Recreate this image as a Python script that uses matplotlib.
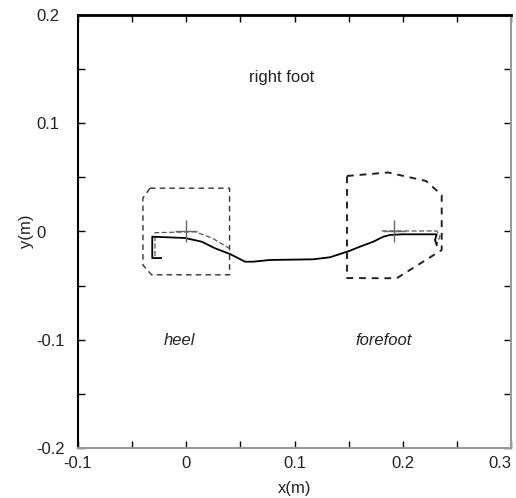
import matplotlib
matplotlib.use("Agg")
import matplotlib.pyplot as plt
import numpy as np

plt.rcParams["font.family"] = ["Liberation Sans", "DejaVu Sans"]

# foot regions (m)
heel_box_x = [-0.0335, 0.040, 0.040, -0.032, -0.040, -0.040, -0.0335]
heel_box_y = [0.040, 0.040, -0.040, -0.040, -0.031, 0.031, 0.040]
fore_box_x = [0.1485, 0.1864, 0.2215, 0.236, 0.236, 0.1944, 0.1485, 0.1485]
fore_box_y = [0.0513, 0.0545, 0.0467, 0.0337, -0.0171, -0.0432, -0.043, 0.0513]

# centre of pressure path
cop_x = [-0.0233, -0.0314, -0.0314, -0.0012, 0.0143, 0.0266, 0.0404, 0.0543,
         0.0617, 0.0774, 0.1171, 0.1328, 0.1420, 0.1513, 0.1605, 0.1728,
         0.1820, 0.1882, 0.1990, 0.2314, 0.2298, 0.2314]
cop_y = [-0.0245, -0.0245, -0.0048, -0.0060, -0.0094, -0.0155, -0.0208, -0.0279,
         -0.0279, -0.0263, -0.0257, -0.0238, -0.0208, -0.0177, -0.0140, -0.0094,
         -0.0048, -0.0032, -0.0026, -0.0026, -0.0078, -0.0125]

# second (dashed) path segments
heel_path_x = [-0.0289, -0.0289, 0.0081, 0.0238, 0.0423]
heel_path_y = [-0.0226, -0.0011, -0.0002, -0.0060, -0.0171]
fore_path_x = [0.1805, 0.2314, 0.2344, 0.2316]
fore_path_y = [0.0005, 0.0005, -0.0042, -0.0116]

# region centres
centre_x = [0.0, 0.192]
centre_y = [0.0, 0.0]

ticks = [-0.1, 0, 0.1, 0.2, 0.3]
yticks = [-0.2, -0.1, 0, 0.1, 0.2]

fig = plt.figure(figsize=(5.16, 4.98), dpi=100)
ax = fig.add_axes([78/516, 50/498, 433/516, 433/498])

ax.plot(heel_box_x, heel_box_y, color="#333333", lw=1.0, dashes=(4, 3))
ax.plot(fore_box_x, fore_box_y, color="#222222", lw=1.4, dashes=(3.5, 3))
ax.plot(heel_path_x, heel_path_y, color="#555555", lw=0.9, dashes=(4, 2))
ax.plot(fore_path_x, fore_path_y, color="#555555", lw=0.9, dashes=(4, 2))
ax.plot(cop_x, cop_y, color="black", lw=1.3)
ax.plot(centre_x, centre_y, "+", color="#666666", markersize=16, mew=1.0)

ax.text(0.088, 0.1427, "right foot", fontsize=12, ha="center", va="center", color="#222222")
ax.text(-0.0062, -0.1009, "heel", fontsize=12, ha="center", va="center", style="italic", color="#222222")
ax.text(0.182, -0.1009, "forefoot", fontsize=12, ha="center", va="center", style="italic", color="#222222")

ax.set_xlim(-0.1, 0.3)
ax.set_ylim(-0.2, 0.2)
ax.set_xticks(ticks)
ax.set_xticklabels(["-0.1", "0", "0.1", "0.2", "0.3"])
ax.set_yticks(yticks)
ax.set_yticklabels(["-0.2", "-0.1", "0", "0.1", "0.2"])
ax.set_xticks(np.arange(-0.1, 0.31, 0.05), minor=True)
ax.set_yticks(np.arange(-0.2, 0.21, 0.05), minor=True)
ax.tick_params(which="both", direction="in", length=5, width=1.0, top=True, right=True,
               labelsize=12, labelcolor="#222222")
ax.tick_params(axis="x", pad=6)
ax.tick_params(axis="y", pad=30)
for lab in ax.get_yticklabels():
    lab.set_horizontalalignment("left")
ax.get_xticklabels()[-1].set_horizontalalignment("right")

ax.spines["top"].set_linewidth(2.0)
ax.spines["left"].set_linewidth(1.5)
ax.spines["right"].set_color("#999999")
ax.spines["bottom"].set_color("#999999")
ax.spines["right"].set_linewidth(1.5)
ax.spines["bottom"].set_linewidth(1.5)

ax.set_xlabel("x(m)", fontsize=12, color="#222222")
ax.set_ylabel("y(m)", fontsize=12, color="#222222")
ax.xaxis.set_label_coords(0.5, -40/433)
ax.yaxis.set_label_coords(-52/433, 0.5)
ax.xaxis.label.set_va("center")
ax.yaxis.label.set_va("center")

plt.savefig("out.png", dpi=100)
